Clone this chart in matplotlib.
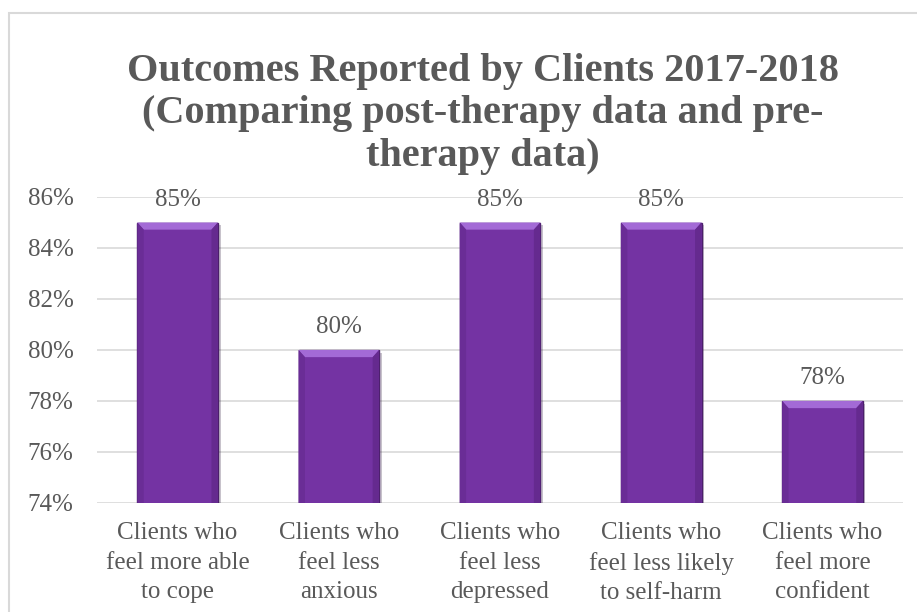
import matplotlib.pyplot as plt
import matplotlib.patheffects as pe
from matplotlib.patches import Polygon, Rectangle

categories = ['Clients who\nfeel more able\nto cope', 'Clients who\nfeel less\nanxious',
              'Clients who\nfeel less\ndepressed', 'Clients who\nfeel less likely\nto self-harm',
              'Clients who\nfeel more\nconfident']
values = [85, 80, 85, 85, 78]
yticks = [74, 76, 78, 80, 82, 84, 86]
title = 'Outcomes Reported by Clients 2017-2018\n(Comparing post-therapy data and pre-\ntherapy data)'

txt = '#595959'
serif = ['Liberation Serif', 'DejaVu Serif']

fig = plt.figure(figsize=(9.17, 6.12), dpi=100)
fig.patches.append(Rectangle((9 / 917, -0.05), 1.1, 1 - 13 / 612 + 0.05,
                             transform=fig.transFigure, fill=False,
                             edgecolor='#d9d9d9', linewidth=1.5))
ax = fig.add_axes([97 / 917, 1 - 503 / 612, 806 / 917, 306 / 612])

x = range(len(categories))
bars = ax.bar(x, values, width=0.5, bottom=0, color='#7433a3', edgecolor='#4b1f6b',
              linewidth=1.0, zorder=3,
              path_effects=[pe.SimplePatchShadow(offset=(2, -2), alpha=0.25), pe.Normal()])

# bevel highlight on top of each bar
for i, b in enumerate(bars):
    x0, w, h = b.get_x(), b.get_width(), b.get_height()
    inset = w * 0.08
    band = 0.28
    ax.add_patch(Polygon([(x0, h), (x0 + w, h), (x0 + w - inset, h - band), (x0 + inset, h - band)],
                         closed=True, facecolor='#a36ad6', edgecolor='none', zorder=4))
    ax.add_patch(Polygon([(x0, h), (x0 + inset, h - band), (x0 + inset, 0), (x0, 0)],
                         closed=True, facecolor='#6a2d96', edgecolor='none', zorder=4))
    ax.add_patch(Polygon([(x0 + w, h), (x0 + w - inset, h - band), (x0 + w - inset, 0), (x0 + w, 0)],
                         closed=True, facecolor='#652a8f', edgecolor='none', zorder=4))
    ax.text(x0 + w / 2, h + 0.47, f'{values[i]}%', ha='center', va='bottom',
            fontsize=18, color=txt, family=serif)

ax.set_ylim(74, 86)
ax.set_xlim(-0.5, len(categories) - 0.5)
ax.set_yticks(yticks)
ax.set_yticklabels([f'{v}%' for v in yticks], fontsize=18, color=txt, family=serif)
ax.set_xticks(list(x))
ax.set_xticklabels(categories, fontsize=18, color=txt, family=serif, linespacing=1.42)
ax.tick_params(axis='y', length=0, pad=17)
ax.tick_params(axis='x', length=0, pad=14)
ax.grid(axis='y', color='#d9d9d9', linewidth=1.2, zorder=0)
for s in ax.spines.values():
    s.set_visible(False)

fig.text(483 / 917, 1 - 114 / 612, title, ha='center', va='center', fontsize=29, fontweight='bold',
         color=txt, family=serif, linespacing=1.2)

fig.savefig('out.png', dpi=100)
